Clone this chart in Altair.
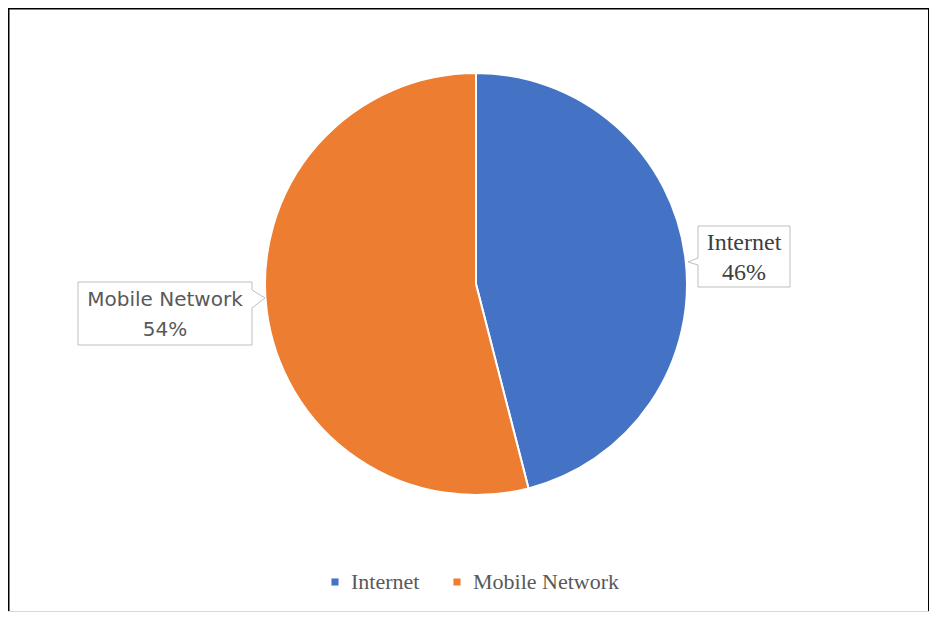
import altair as alt
import pandas as pd

# ---- data ----
categories = ["Internet", "Mobile Network"]
shares = [46, 54]
colors = ["#4472C4", "#ED7D31"]

df = pd.DataFrame({"category": categories, "share": shares, "order": list(range(len(categories)))})
df["pct"] = df["share"].astype(str) + "%"

one = pd.DataFrame({"k": [0]})

W, H = 921, 604
CX, CY, R = 468, 276, 211

color_scale = alt.Scale(domain=categories, range=colors)

pie = alt.Chart(df).mark_arc(radius=R, stroke="white", strokeWidth=2).encode(
    theta=alt.Theta("share:Q", stack=True),
    order=alt.Order("order:Q"),
    color=alt.Color(
        "category:N",
        scale=color_scale,
        sort=categories,
        legend=alt.Legend(
            orient="none",
            legendX=316,
            legendY=563,
            direction="horizontal",
            title=None,
            padding=0,
            symbolType="square",
            symbolSize=50,
            symbolStrokeWidth=0,
            labelFont="Liberation Serif",
            labelFontSize=22,
            labelColor="#595959",
            labelOffset=5,
            columnPadding=26,
        ),
    ),
    x=alt.value(CX),
    y=alt.value(CY),
)


def rule(x1, y1, x2, y2, color="#BFBFBF", width=1):
    return alt.Chart(one).mark_rule(color=color, strokeWidth=width).encode(
        x=alt.value(x1), y=alt.value(y1), x2=alt.value(x2), y2=alt.value(y2)
    )


def box(x1, x2, y1, y2):
    return alt.Chart(one).mark_rect(fill="white", stroke="#BFBFBF", strokeWidth=1).encode(
        x=alt.value(x1), x2=alt.value(x2), y=alt.value(y1), y2=alt.value(y2)
    )


def label(cat, field, x, y, font, size, color):
    return alt.Chart(df).transform_filter(alt.datum.category == cat).mark_text(
        font=font, fontSize=size, color=color, align="center", baseline="middle"
    ).encode(text=f"{field}:N", x=alt.value(x), y=alt.value(y))


# Internet callout (box right of the pie)
inet_box = box(690, 782, 218, 279)
inet_notch = [
    rule(690, 250, 690, 257, color="white", width=2),
    rule(690, 250, 680, 254),
    rule(680, 254, 690, 257),
]
inet_name = label("Internet", "category", 736, 235, "Liberation Serif", 24, "#404040")
inet_pct = label("Internet", "pct", 736, 265, "Liberation Serif", 24, "#404040")

# Mobile Network callout (box left of the pie)
mob_box = box(70, 244, 274, 337)
mob_notch = [
    rule(244, 282, 244, 300, color="white", width=2),
    rule(244, 282, 257, 290),
    rule(257, 290, 244, 300),
]
mob_name = label("Mobile Network", "category", 157, 292, "DejaVu Sans", 20, "#595959")
mob_pct = label("Mobile Network", "pct", 157, 322, "DejaVu Sans", 20, "#595959")

# frame
frame = [
    rule(0, 0, W, 0, color="#000000", width=3),
    rule(0, 0, 0, H, color="#000000", width=3),
    rule(W, 0, W, H, color="#000000", width=2),
    rule(0, H, W, H, color="#D9D9D9", width=2),
]

chart = alt.layer(
    pie,
    inet_box, *inet_notch, inet_name, inet_pct,
    mob_box, *mob_notch, mob_name, mob_pct,
    *frame,
).properties(
    width=W, height=H, padding=0, autosize="none", background="white"
).configure_view(stroke=None)

chart.save("out.html", embed_options={"renderer": "svg", "actions": False})
